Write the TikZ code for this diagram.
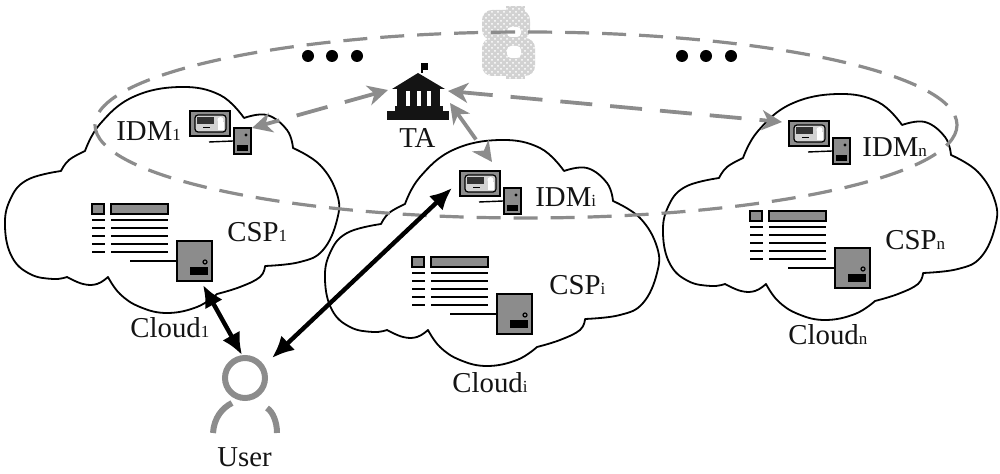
\documentclass[tikz,border=0pt]{standalone}
\usepackage{fontspec}
\setmainfont{Liberation Serif}
\usepackage{tikz}
\usetikzlibrary{positioning,arrows.meta,patterns}
\definecolor{midgray}{gray}{0.55}
\definecolor{inkgray}{gray}{0.08}
\newcommand{\subtxt}[1]{{\fontsize{8.5}{9}\selectfont #1}}
\tikzset{
  lbl/.style={font=\fontsize{14.4}{16}\selectfont,inner sep=0pt,anchor=base west,text=inkgray},
  cloudline/.style={draw=black,fill=white,line width=0.9pt,line join=round},
  boxfill/.style={draw=black,fill=midgray,line width=0.8pt},
  server/.style={boxfill,rectangle,inner sep=0pt,minimum width=17.5pt,minimum height=20pt},
  smallserver/.style={boxfill,rectangle,inner sep=0pt,minimum width=8.5pt,minimum height=13pt},
  blackarrow/.style={{Latex[length=11pt,width=10pt]}-{Latex[length=11pt,width=10pt]},line width=2.2pt,black},
  grayarrow/.style={{Stealth[length=10pt,width=10pt,inset=3pt]}-{Stealth[length=10pt,width=10pt,inset=3pt]},midgray,line width=1.9pt,dash pattern=on 16pt off 9pt},
  trustring/.style={midgray,line width=1.6pt,dash pattern=on 12pt off 6.5pt}
}
\begin{document}
\begin{tikzpicture}[x=0.5pt,y=-0.5pt]
\useasboundingbox (0,0) rectangle (1000,474);

%clouds with their service providers and identity managers
\foreach \n/\cx/\cy/\ix/\iy in {1/0/0/0/0, n/658/7/599/10, i/320/53/270/60}{
  \begin{scope}[shift={(\cx,\cy)}]
  \path[cloudline] plot[smooth,tension=.7] coordinates {(61,171) (69,160) (85,151)}
    -- plot[smooth,tension=.7] coordinates {(85,151) (100,124) (133,97) (180,87) (220,95) (244,118)}
    -- plot[smooth,tension=.7] coordinates {(244,118) (267,115) (287,130) (293,148)}
    -- plot[smooth,tension=.7] coordinates {(293,148) (320,165) (337,194) (337,220) (323,250) (300,262) (265,266)}
    -- plot[smooth,tension=.7] coordinates {(265,266) (260,277) (240,287) (217,294)}
    -- plot[smooth,tension=.7] coordinates {(217,294) (197,307) (167,313) (140,307) (120,294) (108,277)}
    -- plot[smooth,tension=.7] coordinates {(108,277) (97,284) (83,284) (67,277)}
    -- plot[smooth,tension=.7] coordinates {(67,277) (53,279) (30,274) (12,257) (5,227) (10,200) (27,180) (61,171)} -- cycle;
  %document list
  \draw[boxfill] (92,204) rectangle (104,214);
  \draw[boxfill] (111,204) rectangle (168,214);
  \foreach \ly in {220,228,236,244,252}{
    \draw[line width=0.8pt] (92,\ly)--(105,\ly);
    \draw[line width=0.8pt] (111,\ly)--(168,\ly);
  }
  %server
  \node[server] (server\n) at (194.5,261) {};
  \draw[line width=0.7pt] (130,261)--(server\n.west);
  \fill[black] (190,267) rectangle (208,275);
  \draw[line width=0.6pt] (205,262) circle (2);
  \end{scope}
  \begin{scope}[shift={(\ix,\iy)}]
  %monitor
  \node[boxfill,rectangle,inner sep=0pt,minimum width=20pt,minimum height=12.5pt] (monitor\n) at (210,123.5) {};
  \draw[black,fill=gray!35,rounded corners=1.5pt,line width=0.6pt] (195,115) rectangle (226,132);
  \fill[black!80] (197,117.5) rectangle (214,124.5);
  \draw[line width=0.5pt] (203,128)--(210,128);
  \fill[white] (220.5,120) circle (3);
  \fill[white] (217.5,130) rectangle (223.5,122);
  %small server
  \node[smallserver] (idmserver\n) at (242.5,141) {};
  \draw[line width=0.7pt] (209,142)--(idmserver\n.west);
  \fill[black] (237,145) rectangle (248,151);
  \fill[black] (246,135) circle (1.6);
  \end{scope}
}

%TA building
\draw[line width=0.7pt,black] (422,73)--(422,63);
\fill[black] (422,63) rectangle (428,70);
\fill[inkgray] (418,73)--(445,89)--(392,89)--cycle;
\fill[inkgray] (397,89) rectangle (440,106);
\fill[white] (406,91) rectangle (410,106);
\fill[white] (417,91) rectangle (421,106);
\fill[white] (427,91) rectangle (431,106);
\fill[inkgray] (395,106) rectangle (443,111);
\fill[inkgray] (387,111) rectangle (449,120);
\node[lbl] (talabel) at (399,148) {TA};

%bitcoin mark
\fill[gray!35,rounded corners=5pt] (482,10) rectangle (530,40);
\fill[gray!35,rounded corners=5pt] (482,38) rectangle (535,76);
\fill[gray!35] (506,6) rectangle (525,12);
\fill[gray!35] (506,74) rectangle (525,79);
\fill[white,rounded corners=2pt] (507,27) rectangle (521,37);
\fill[white,rounded corners=2pt] (507,46) rectangle (521,58);
\fill[pattern=crosshatch dots,pattern color=white,rounded corners=5pt] (480,4) rectangle (537,80);

%dashed ring
\draw[trustring] (526,125) ellipse [x radius=431,y radius=93];

%dots
\foreach \dx in {308,332,357,682,706,731}{
  \fill[black] (\dx,56) circle (6);
}

%user
\node[draw=midgray,circle,line width=3pt,minimum size=20pt,inner sep=0pt] (userhead) at (245,378) {};
\draw[midgray,line width=3pt] (213,433) .. controls (214,418) and (222,408) .. (232,403);
\draw[midgray,line width=3pt] (267,408) .. controls (273,412) and (277,422) .. (277,433);
\coordinate (usertop) at (242,355);
\coordinate (userright) at (272,358);

%arrow ends
\coordinate (ctop) at (203,285);
\coordinate (mtip) at (452,188);
\coordinate (tawest) at (388,90);
\coordinate (taeast) at (448,91);
\coordinate (tasouth) at (450,103);
\coordinate (idmone) at (252,128);
\coordinate (idmlast) at (782,122);
\coordinate (idmmid) at (492,162);

%arrows
\draw[blackarrow] (ctop)--(usertop);
\draw[blackarrow] (mtip)--(userright);
\draw[grayarrow] (tawest)--(idmone);
\draw[grayarrow] (taeast)--(idmlast);
\draw[grayarrow] (tasouth)--(idmmid);

%labels
\node[lbl] at (116,141) {IDM\subtxt{1}};
\node[lbl] at (227,242) {CSP\subtxt{1}};
\node[lbl] at (130,338) {Cloud\subtxt{1}};
\node[lbl] at (535,207) {IDM\subtxt{i}};
\node[lbl] at (549,295) {CSP\subtxt{i}};
\node[lbl] at (452,393) {Cloud\subtxt{i}};
\node[lbl] at (862,157) {IDM\subtxt{n}};
\node[lbl] at (885,250) {CSP\subtxt{n}};
\node[lbl] at (788,345) {Cloud\subtxt{n}};
\node[lbl] (userlabel) at (217,467) {User};
\end{tikzpicture}
\end{document}
